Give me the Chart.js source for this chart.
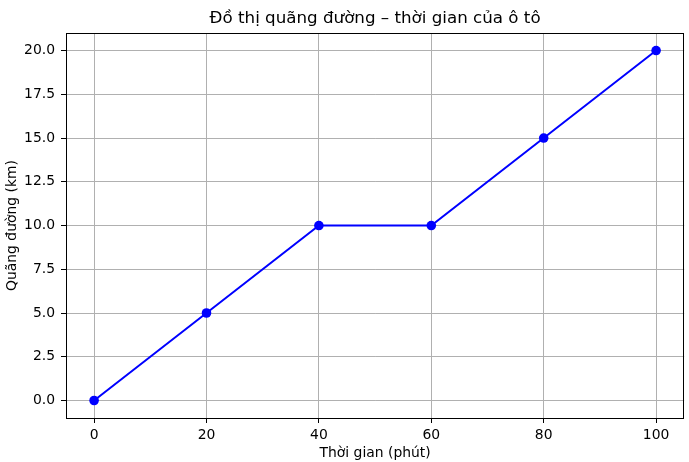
<!DOCTYPE html>
<html lang="vi">
<head>
  <meta charset="UTF-8" />
  <title>Đồ thị quãng đường – thời gian</title>
  <script src="https://cdn.jsdelivr.net/npm/chart.js"></script>
  <style>
    html, body { margin: 0; padding: 0; background: #fff; }
    #wrap { width: 689px; height: 462px; }
  </style>
</head>
<body>
  <div id="wrap">
    <canvas id="chart" width="689" height="462"></canvas>
  </div>
  <script>
    // data
    const times = [0, 20, 40, 60, 80, 100];          // phút
    const distances = [0, 5, 10, 10, 15, 20];        // km
    const xTicks = [0, 20, 40, 60, 80, 100];
    const yTicks = [0, 2.5, 5, 7.5, 10, 12.5, 15, 17.5, 20];

    const FONT = "'DejaVu Sans', sans-serif";

    // black frame round the plot area, like matplotlib spines
    const frame = {
      id: "frame",
      afterDraw(chart) {
        const { ctx, chartArea: a } = chart;
        ctx.save();
        ctx.strokeStyle = "#000";
        ctx.lineWidth = 1;
        ctx.strokeRect(Math.round(a.left) + 0.5, Math.round(a.top) + 0.5,
          Math.round(a.right - a.left) - 1, Math.round(a.bottom - a.top));
        ctx.restore();
      }
    };

    new Chart(document.getElementById("chart"), {
      type: "line",
      data: {
        datasets: [{
          data: times.map((t, i) => ({ x: t, y: distances[i] })),
          borderColor: "#0000ff",
          backgroundColor: "#0000ff",
          borderWidth: 2,
          pointRadius: 4.8,
          pointHoverRadius: 4.8,
          pointBorderWidth: 0,
          tension: 0,
          clip: false
        }]
      },
      options: {
        responsive: false,
        animation: false,
        layout: { padding: { left: 0, right: 3, top: 0, bottom: 0 } },
        plugins: {
          legend: { display: false },
          tooltip: { enabled: false },
          title: {
            display: true,
            fullSize: false,
            text: "Đồ thị quãng đường – thời gian của ô tô",
            color: "#000",
            font: { family: FONT, size: 16.7, weight: "normal", lineHeight: 1.2 },
            padding: { top: 9, bottom: 4 }
          }
        },
        scales: {
          x: {
            type: "linear",
            min: -5,
            max: 105,
            afterBuildTicks: s => { s.ticks = xTicks.map(v => ({ value: v })); },
            afterFit: s => { s.height = 44; },
            border: { display: false },
            grid: { color: "#b0b0b0", lineWidth: 1, tickColor: "#000", tickLength: 5 },
            ticks: {
              color: "#000", padding: 4, maxRotation: 0,
              font: { family: FONT, size: 13.9 },
              callback: v => String(v)
            },
            title: {
              display: true, text: "Thời gian (phút)", color: "#000",
              font: { family: FONT, size: 13.9 }, padding: { top: 2, bottom: 0 }
            }
          },
          y: {
            type: "linear",
            min: -1,
            max: 21,
            afterBuildTicks: s => { s.ticks = yTicks.map(v => ({ value: v })); },
            afterFit: s => { s.width = 66; },
            border: { display: false },
            grid: { color: "#b0b0b0", lineWidth: 1, tickColor: "#000", tickLength: 5 },
            ticks: {
              color: "#000", padding: 6,
              font: { family: FONT, size: 13.9 },
              callback: v => v.toFixed(1)
            },
            title: {
              display: true, text: "Quãng đường (km)", color: "#000",
              font: { family: FONT, size: 13.9 }, padding: { top: 4, bottom: 0 }
            }
          }
        }
      },
      plugins: [frame]
    });
  </script>
</body>
</html>
